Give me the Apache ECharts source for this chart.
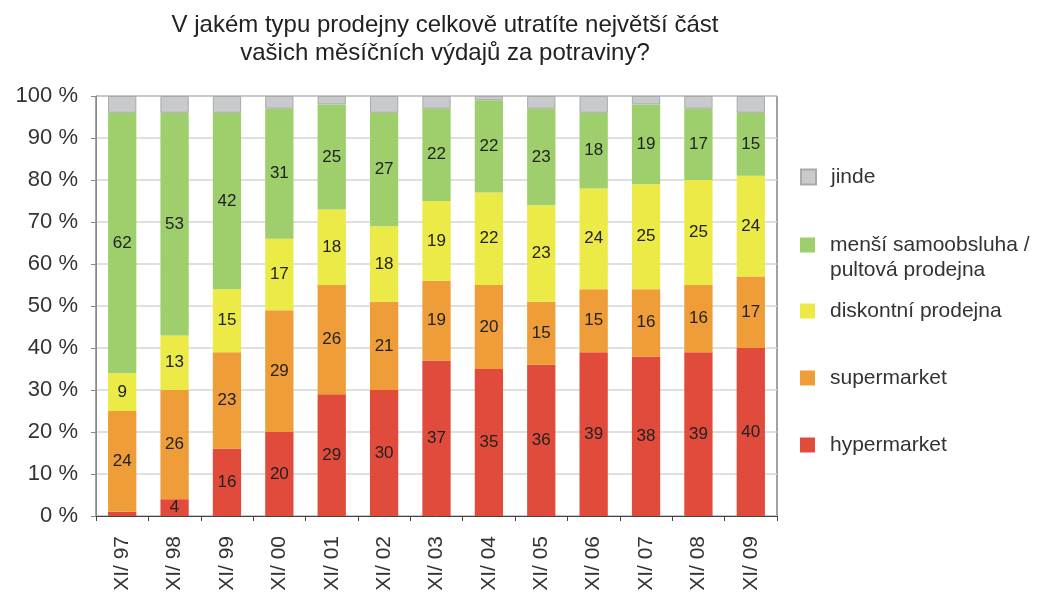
<!DOCTYPE html>
<html>
<head>
<meta charset="utf-8">
<script src="https://cdn.jsdelivr.net/npm/echarts@6/dist/echarts.min.js"></script>
<style>
html,body{margin:0;padding:0;background:#fff;}
#main{width:1063px;height:601px;}
</style>
</head>
<body>
<div id="main"></div>
<script>
var categories = ['XI/ 97','XI/ 98','XI/ 99','XI/ 00','XI/ 01','XI/ 02','XI/ 03','XI/ 04','XI/ 05','XI/ 06','XI/ 07','XI/ 08','XI/ 09'];
var hypermarket = [1, 4, 16, 20, 29, 30, 37, 35, 36, 39, 38, 39, 40];
var supermarket = [24, 26, 23, 29, 26, 21, 19, 20, 15, 15, 16, 16, 17];
var diskontni = [9, 13, 15, 17, 18, 18, 19, 22, 23, 24, 25, 25, 24];
var mensi = [62, 53, 42, 31, 25, 27, 22, 22, 23, 18, 19, 17, 15];
var jinde = [4, 4, 4, 3, 2, 4, 3, 1, 3, 4, 2, 3, 4];
var yTicks = ['0 %','10 %','20 %','30 %','40 %','50 %','60 %','70 %','80 %','90 %','100 %'];

var font = '"Liberation Sans", Arial, sans-serif';
var myChart = echarts.init(document.getElementById('main'));

function barLabel(minVal){
	return {
		show: true,
		position: 'inside',
		color: '#222',
		fontSize: 17,
		fontFamily: font,
		formatter: function(p){ return p.value > minVal ? p.value : ''; }
	};
}

// one legend per entry, the original spaces them unevenly
function legendItem(name, centerY){
	return {
		data: [name],
		left: 800,
		top: centerY - 12,
		padding: 0,
		icon: 'rect',
		itemWidth: 15,
		itemHeight: 15,
		textStyle: { fontSize: 21, color: '#333', fontFamily: font, lineHeight: 24, padding: [0, 0, 0, 10] },
		formatter: function(n){ return n.replace(' pultová prodejna', ''); }
	};
}

var option = {
	animation: false,
	title: {
		text: 'V jakém typu prodejny celkově utratíte největší část\nvašich měsíčních výdajů za potraviny?',
		left: 440,
		textAlign: 'center',
		top: 6,
		textStyle: { fontSize: 24, fontWeight: 'normal', color: '#222', fontFamily: font, lineHeight: 28 }
	},
	legend: [
		legendItem('jinde', 177),
		legendItem('menší samoobsluha / pultová prodejna', 245),
		legendItem('diskontní prodejna', 311),
		legendItem('supermarket', 378),
		legendItem('hypermarket', 445)
	],
	graphic: [
		{ type: 'text', left: 830, top: 260,
		  style: { text: 'pultová prodejna', fontSize: 21, fill: '#333', fontFamily: font } }
	],
	grid: { left: 96, right: 286, top: 96, bottom: 85, show: true, borderColor: '#444', borderWidth: 1 },
	xAxis: {
		type: 'category',
		data: categories,
		axisLine: { lineStyle: { color: '#444' } },
		axisTick: { show: true, length: 5, lineStyle: { color: '#444' } },
		axisLabel: { rotate: 90, fontSize: 21, color: '#333', fontFamily: font, margin: 20 }
	},
	yAxis: {
		type: 'value',
		min: 0,
		max: 100,
		interval: 10,
		axisLine: { show: true, lineStyle: { color: '#888' } },
		axisTick: { show: true, length: 5, lineStyle: { color: '#888' } },
		splitLine: { lineStyle: { color: '#d6d6d6', width: 1.5 } },
		axisLabel: {
			fontSize: 22, color: '#333', fontFamily: font, margin: 18,
			formatter: function(v){ return yTicks[v / 10]; }
		}
	},
	series: [
		{ name: 'hypermarket', type: 'bar', stack: 'a', data: hypermarket, barWidth: '54%',
		  itemStyle: { color: '#e14b3b' }, label: barLabel(2) },
		{ name: 'supermarket', type: 'bar', stack: 'a', data: supermarket,
		  itemStyle: { color: '#ee9d38' }, label: barLabel(2) },
		{ name: 'diskontní prodejna', type: 'bar', stack: 'a', data: diskontni,
		  itemStyle: { color: '#ecea47' }, label: barLabel(2) },
		{ name: 'menší samoobsluha / pultová prodejna', type: 'bar', stack: 'a', data: mensi,
		  itemStyle: { color: '#9ecf6c' }, label: barLabel(2) },
		{ name: 'jinde', type: 'bar', stack: 'a', data: jinde,
		  itemStyle: { color: '#c9cacc', borderColor: '#a9aaac', borderWidth: 1 } }
	]
};
myChart.setOption(option);
</script>
</body>
</html>
